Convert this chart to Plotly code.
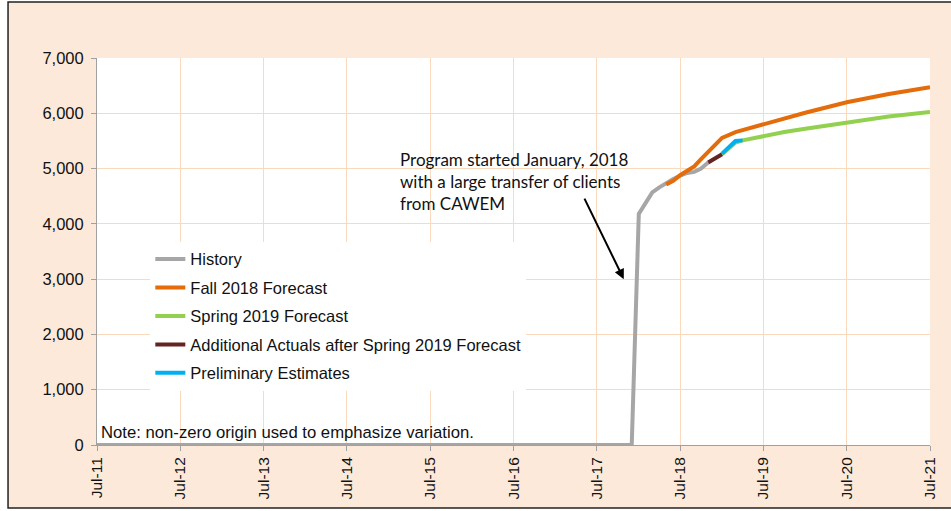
import plotly.graph_objects as go

# series (monthly dates, clients)
historyDates = ['2011-07-01', '2017-12-01', '2018-01-01', '2018-02-01', '2018-03-01', '2018-04-01',
                '2018-05-01', '2018-06-01', '2018-07-01', '2018-08-01', '2018-09-01', '2018-10-01',
                '2018-11-01']
historyVals = [0, 0, 4180, 4400, 4570, 4660, 4740, 4810, 4870, 4920, 4940, 5000, 5110]

fallDates = ['2018-05-01', '2018-06-01', '2018-07-01', '2018-08-01', '2018-09-01', '2018-10-01',
             '2018-11-01', '2018-12-01', '2019-01-01', '2019-03-01', '2019-07-01', '2019-10-01',
             '2020-01-01', '2020-07-01', '2021-01-01', '2021-07-01']
fallVals = [4710, 4780, 4880, 4970, 5040, 5170, 5300, 5430, 5555, 5660, 5800, 5910,
            6010, 6200, 6350, 6470]

springDates = ['2019-01-01', '2019-02-01', '2019-03-01', '2019-04-01', '2019-07-01', '2019-10-01',
               '2020-01-01', '2020-07-01', '2021-01-01', '2021-07-01']
springVals = [5260, 5370, 5470, 5510, 5590, 5660, 5720, 5830, 5940, 6025]

actualDates = ['2018-11-01', '2018-12-01', '2019-01-01']
actualVals = [5110, 5190, 5260]

prelimDates = ['2019-01-01', '2019-02-01', '2019-03-01', '2019-04-01']
prelimVals = [5270, 5390, 5500, 5510]

PEACH = '#FCE9DA'
GRID = '#FBD9BC'
FONT = 'Liberation Sans, Arial, sans-serif'

series = [
    ('History', historyDates, historyVals, '#A6A6A6'),
    ('Fall 2018 Forecast', fallDates, fallVals, '#E46C0A'),
    ('Spring 2019 Forecast', springDates, springVals, '#92D050'),
    ('Additional Actuals after Spring 2019 Forecast', actualDates, actualVals, '#632523'),
    ('Preliminary Estimates', prelimDates, prelimVals, '#00B0F0'),
]

fig = go.Figure()
for i, (name, xs, ys, color) in enumerate(series):
    fig.add_trace(go.Scatter(
        x=xs, y=ys, name=name, mode='lines', legendgroup=f'g{i}',
        line=dict(color=color, width=4),
    ))

fig.update_layout(
    width=951, height=511,
    margin=dict(l=97, r=21, t=58, b=66),
    paper_bgcolor=PEACH, plot_bgcolor='white',
    font=dict(family=FONT, size=16, color='#111111'),
    legend=dict(
        x=0.064, y=0.525, xanchor='left', yanchor='top',
        bgcolor='white', font=dict(size=16.5), tracegroupgap=4,
        itemwidth=30,
    ),
    showlegend=True,
)

fig.update_xaxes(
    type='date', range=['2011-07-01', '2021-07-01'],
    tick0='2011-07-01', dtick='M12', tickformat='%b-%y', tickangle=-90,
    showgrid=True, gridcolor=GRID, gridwidth=1,
    showline=True, linecolor='#A0A0A0', linewidth=1,
    ticks='outside', ticklen=5, tickcolor='#A0A0A0',
    tickfont=dict(size=15.5), zeroline=False,
)
fig.update_yaxes(
    range=[0, 7000], dtick=1000, tickformat=',',
    showgrid=True, gridcolor=GRID, gridwidth=1,
    showline=True, linecolor='#A0A0A0', linewidth=1,
    ticks='outside', ticklen=5, tickcolor='#A0A0A0',
    tickfont=dict(size=16.5), zeroline=False, ticklabelstandoff=4,
)

# white strips outside the dark frame
for x0, x1, y0, y1 in [(-0.2, -0.1068, -0.3, 1.3), (-0.2, 1.1, 1.1447, 1.3), (-0.2, 1.1, -0.3, -0.1628)]:
    fig.add_shape(type='rect', xref='paper', yref='paper', x0=x0, x1=x1, y0=y0, y1=y1,
                  fillcolor='white', line=dict(width=0), layer='below')
fig.add_shape(type='rect', xref='paper', yref='paper',
              x0=-0.1068, x1=1.05, y0=-0.1628, y1=1.1447,
              line=dict(color='#222222', width=1.5))

fig.add_annotation(
    xref='paper', yref='paper', x=0.3613, y=0.77, xanchor='left', yanchor='top',
    text='Program started January, 2018<br>with a large transfer of clients<br>from CAWEM',
    showarrow=False, align='left', font=dict(family='Lato, sans-serif', size=17, color='#111111'),
)
fig.add_annotation(
    x='2017-10-27', y=3000, text='', showarrow=True,
    ax=-40, ay=-82, arrowhead=2, arrowsize=1, arrowwidth=2, arrowcolor='black',
)
fig.add_annotation(
    xref='paper', yref='paper', x=0.002, y=0.003, xanchor='left', yanchor='bottom',
    text='Note: non-zero origin used to emphasize variation.',
    showarrow=False, font=dict(size=16.7, color='#111111'),
)

fig.write_html('out.html', config={'displayModeBar': False},
               post_script="document.body.style.margin='0';")
